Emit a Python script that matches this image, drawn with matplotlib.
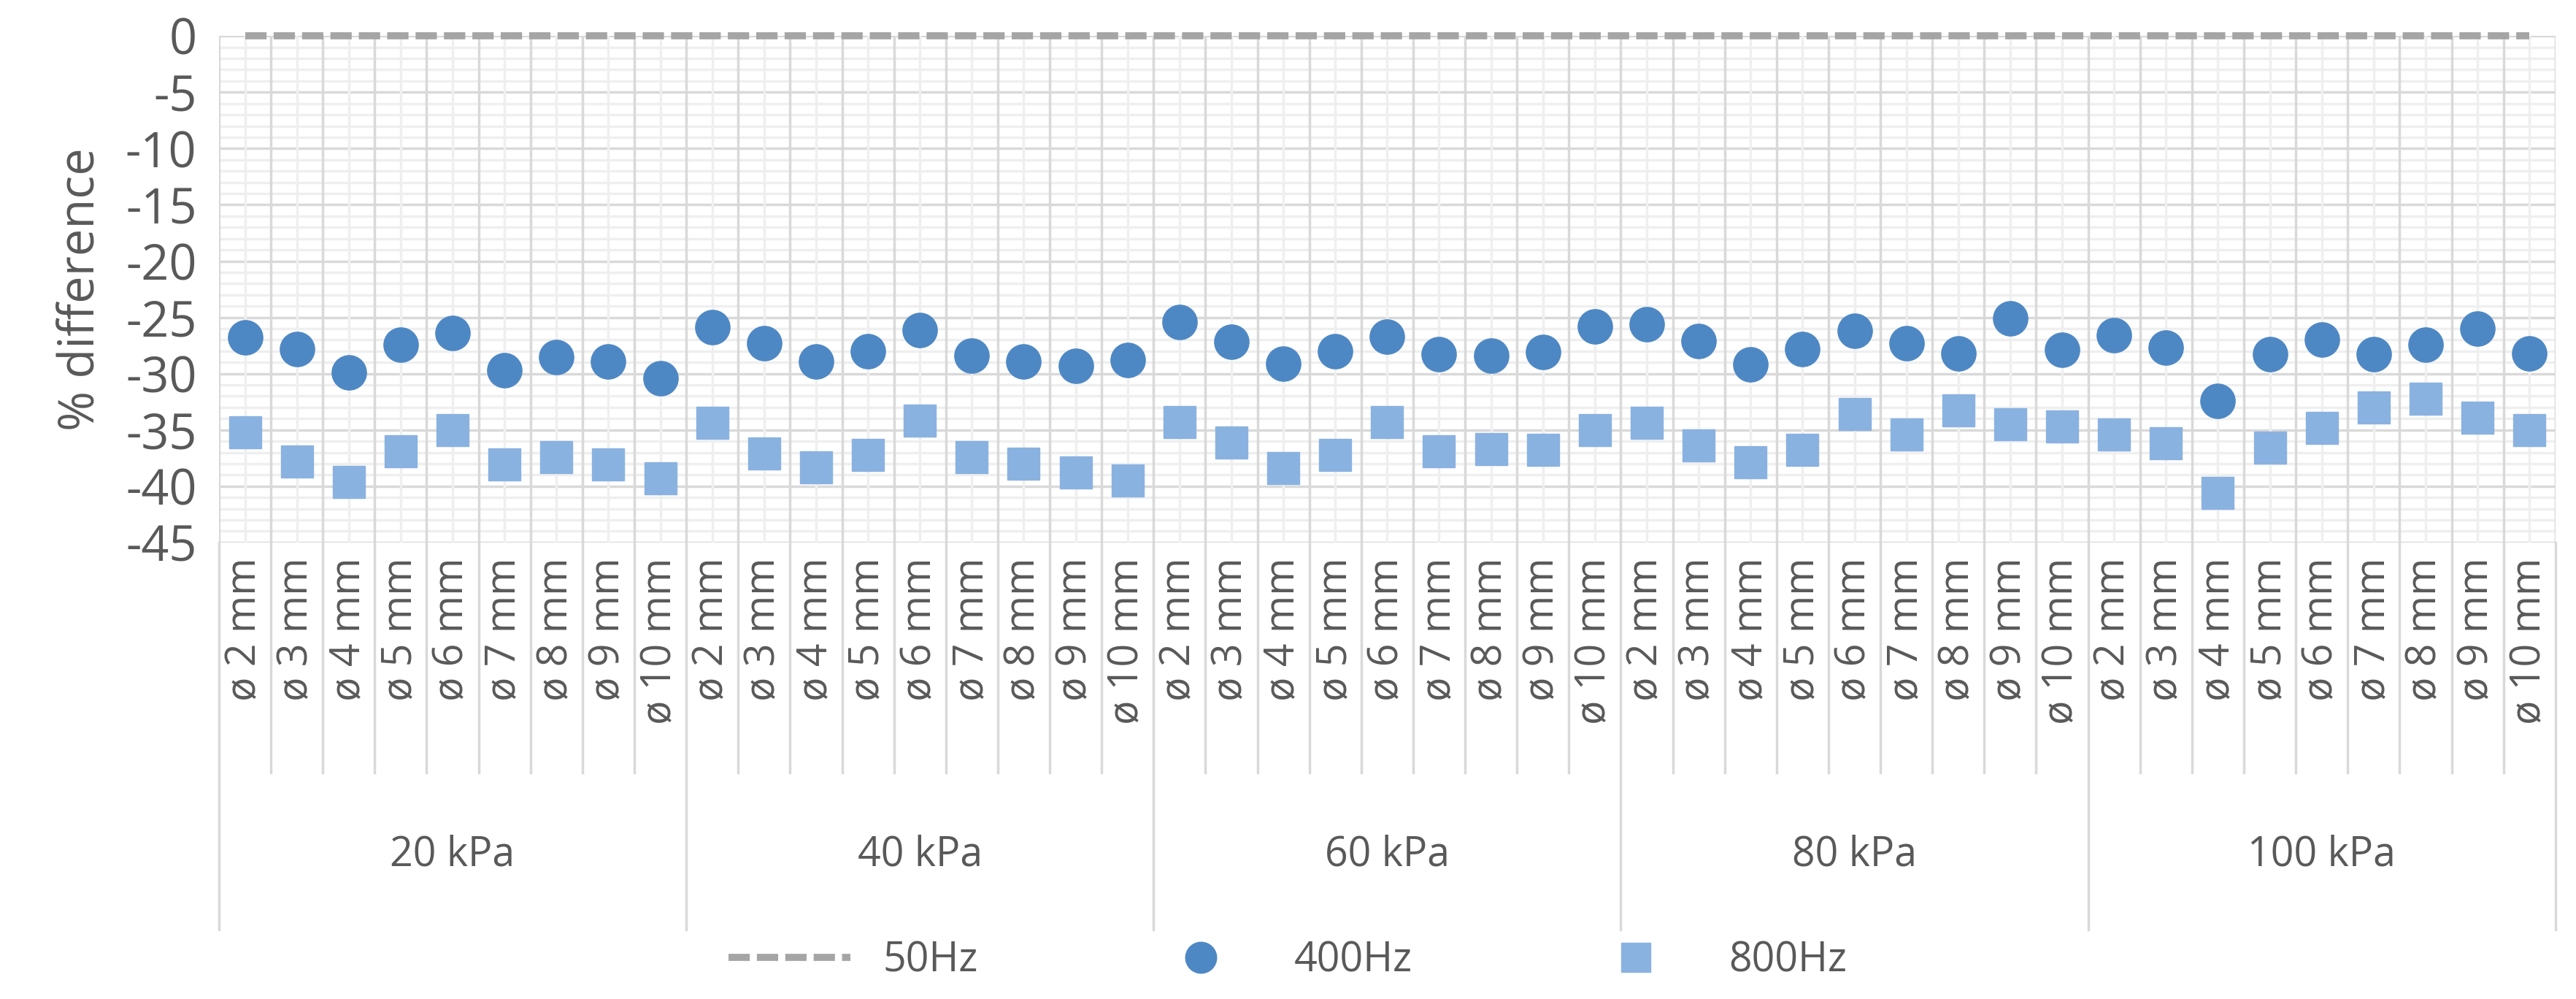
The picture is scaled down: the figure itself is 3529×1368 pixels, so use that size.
import matplotlib.pyplot as plt
import matplotlib.transforms as mtransforms
import numpy as np

plt.rcParams['font.family'] = ['Open Sans', 'DejaVu Sans']
plt.rcParams['axes.unicode_minus'] = False

groups = ['20 kPa', '40 kPa', '60 kPa', '80 kPa', '100 kPa']
sizes = ['ø 2 mm', 'ø 3 mm', 'ø 4 mm', 'ø 5 mm', 'ø 6 mm', 'ø 7 mm', 'ø 8 mm', 'ø 9 mm', 'ø 10 mm']

hz400 = [-26.8, -27.8, -29.9, -27.4, -26.4, -29.7, -28.5, -28.9, -30.4,
         -25.9, -27.3, -28.9, -28.0, -26.1, -28.4, -28.9, -29.3, -28.8,
         -25.4, -27.2, -29.1, -28.0, -26.7, -28.3, -28.4, -28.1, -25.8,
         -25.6, -27.1, -29.2, -27.8, -26.2, -27.3, -28.2, -25.1, -27.9,
         -26.6, -27.7, -32.4, -28.3, -27.0, -28.3, -27.4, -26.0, -28.2]
hz800 = [-35.2, -37.8, -39.6, -36.9, -35.0, -38.1, -37.4, -38.1, -39.3,
         -34.4, -37.1, -38.3, -37.2, -34.2, -37.4, -38.0, -38.8, -39.5,
         -34.3, -36.1, -38.4, -37.2, -34.3, -36.9, -36.7, -36.8, -35.0,
         -34.4, -36.4, -37.9, -36.8, -33.6, -35.4, -33.3, -34.5, -34.7,
         -35.4, -36.2, -40.6, -36.6, -34.8, -33.0, -32.2, -33.9, -35.0]
hz50 = [0.0] * 45

n = len(hz400)
x = np.arange(n)

fig = plt.figure(figsize=(35.29, 13.68), dpi=100)
ax = fig.add_axes([0.085, 0.457, 0.907, 0.507])

# grid
for v in np.arange(-45, 1, 1):
    ax.axhline(v, color='#D9D9D9' if v % 5 == 0 else '#EFEFEF', lw=2.5 if v % 5 == 0 else 2.5, zorder=0)
for b in np.arange(-0.5, n, 1):
    ax.axvline(b, color='#D9D9D9', lw=2.5, zorder=0)
for c in x:
    ax.axvline(c, color='#EFEFEF', lw=2.5, zorder=0)

l50, = ax.plot(x, hz50, color='#A5A5A5', lw=7, ls=(0, (3, 1)), zorder=3, clip_on=False)
l400, = ax.plot(x, hz400, 'o', color='#4E88C4', ms=34, ls='none', zorder=4)
l800, = ax.plot(x, hz800, 's', color='#8AB2E0', ms=32, ls='none', zorder=4)

ax.set_xlim(-0.5, n - 0.5)
ax.set_ylim(-45, 0)
ax.set_yticks(np.arange(-45, 1, 5))
ax.set_xticks([])
ax.tick_params(axis='y', length=0, labelsize=48, labelcolor='#595959', pad=22)
for s in ax.spines.values():
    s.set_visible(False)
ax.set_ylabel('% difference', fontsize=48, color='#595959', labelpad=20)

# category axis below
trans = mtransforms.blended_transform_factory(ax.transData, ax.transAxes)
for i in x:
    ax.text(i, -0.03, sizes[i % 9], transform=trans, rotation=90, ha='center', va='top',
            fontsize=40, color='#595959')
for b in np.arange(-0.5, n, 1):
    bottom = -0.765 if (b + 0.5) % 9 == 0 else -0.455
    ax.plot([b, b], [0, bottom], transform=trans, color='#D9D9D9', lw=2.5, clip_on=False)
for g, name in enumerate(groups):
    ax.text(g * 9 + 4, -0.617, name, transform=trans, ha='center', va='center',
            fontsize=40, color='#595959')

fig.legend([l50, l400, l800], ['50Hz', '400Hz', '800Hz'], loc='center',
           bbox_to_anchor=(0.5, 0.038), ncol=3, frameon=False, fontsize=40,
           labelcolor='#595959', handlelength=3, columnspacing=4, markerscale=0.9)

fig.savefig('out.png', dpi=100)
